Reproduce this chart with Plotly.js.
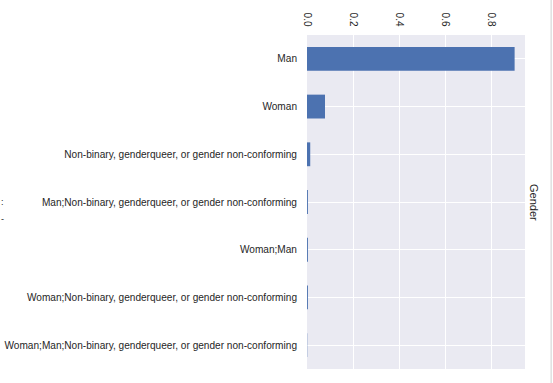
<!DOCTYPE html>
<html>
<head>
<meta charset="utf-8">
<script src="https://cdn.plot.ly/plotly-3.0.1.min.js"></script>
<style>html,body{margin:0;padding:0;background:#fff;}#chart{width:553px;height:383px;}</style>
</head>
<body>
<div id="chart"></div>
<script>
const categories = [
  "Man",
  "Woman",
  "Non-binary, genderqueer, or gender non-conforming",
  "Man;Non-binary, genderqueer, or gender non-conforming",
  "Woman;Man",
  "Woman;Non-binary, genderqueer, or gender non-conforming",
  "Woman;Man;Non-binary, genderqueer, or gender non-conforming"
];
const shares = [0.900, 0.078, 0.014, 0.004, 0.004, 0.004, 0.001];
const xTickValues = [0, 0.2, 0.4, 0.6, 0.8];
const xTickLabels = ["0.0", "0.2", "0.4", "0.6", "0.8"];
const axisTitle = "Gender";

const trace = {
  type: "bar",
  orientation: "h",
  y: categories,
  x: shares,
  width: 0.5,
  marker: {color: "#4C72B0", line: {width: 0}},
  hoverinfo: "x+y"
};

const layout = {
  width: 553, height: 383,
  margin: {l: 307, r: 28, t: 35, b: 14, pad: 0},
  paper_bgcolor: "#ffffff",
  plot_bgcolor: "#EAEAF2",
  font: {family: "Liberation Sans, Arial, sans-serif", size: 10, color: "#262626"},
  showlegend: false,
  xaxis: {
    side: "top",
    range: [0, 0.945],
    tickvals: xTickValues,
    ticktext: xTickLabels,
    tickangle: 90,
    showgrid: true, gridcolor: "#ffffff", gridwidth: 1,
    zeroline: false, showline: false,
    ticks: "", ticklabelstandoff: 6,
    tickfont: {size: 10, color: "#262626"},
    fixedrange: true
  },
  yaxis: {
    type: "category",
    autorange: "reversed",
    showgrid: true, gridcolor: "#ffffff", gridwidth: 1,
    zeroline: false, showline: false,
    ticks: "", ticklabelstandoff: 9,
    tickfont: {size: 10.1, color: "#262626"},
    fixedrange: true
  },
  annotations: [
    {text: axisTitle, xref: "paper", yref: "paper", x: 1, y: 0.5,
     xshift: 1, xanchor: "left", yanchor: "middle", textangle: 90,
     showarrow: false, font: {size: 11, color: "#262626"}},
    {text: ":", xref: "paper", yref: "paper", x: -307/217, y: 0.5, xanchor: "left", yanchor: "middle",
     xshift: 0, yshift: 0, showarrow: false, font: {size: 9, color: "#262626"}},
    {text: "-", xref: "paper", yref: "paper", x: -307/217, y: 0.5, xanchor: "left", yanchor: "middle",
     xshift: 0, yshift: -17, showarrow: false, font: {size: 9, color: "#262626"}}
  ],
  shapes: [
    {type: "line", xref: "paper", yref: "paper", x0: 243/217, x1: 243/217, y0: -14/334, y1: 383/334 - 14/334 + 0.01,
     line: {color: "#d0d0d0", width: 1}}
  ]
};

Plotly.newPlot("chart", [trace], layout, {displayModeBar: false, staticPlot: true});
</script>
</body>
</html>
